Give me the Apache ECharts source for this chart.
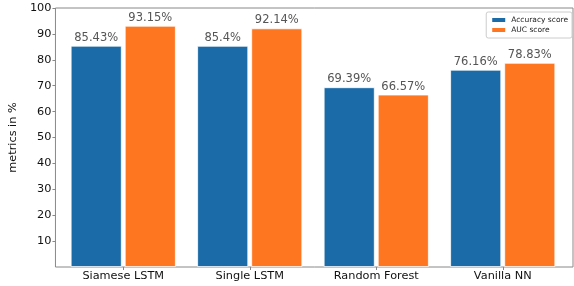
<!DOCTYPE html>
<html>
<head>
<meta charset="utf-8">
<script src="https://cdn.jsdelivr.net/npm/echarts@6/dist/echarts.min.js"></script>
<style>
  html, body { margin: 0; padding: 0; background: #fff; }
  #chart { width: 574px; height: 286px; }
</style>
</head>
<body>
<div id="chart"></div>
<script>
const categories = ['Siamese LSTM', 'Single LSTM', 'Random Forest', 'Vanilla NN']
const accuracy = [85.43, 85.4, 69.39, 76.16]
const auc = [93.15, 92.14, 66.57, 78.83]
const yTicks = [10, 20, 30, 40, 50, 60, 70, 80, 90, 100]

const chart = echarts.init(document.getElementById('chart'))
const font = 'DejaVu Sans'

const label = {
  show: true,
  position: 'top',
  distance: 2,
  color: '#555',
  fontFamily: font,
  fontSize: 11.5,
  formatter: (p) => p.value + '%',
}

const option = {
  animation: false,
  textStyle: { fontFamily: font },
  legend: {
    right: 2,
    top: 12,
    orient: 'vertical',
    itemWidth: 15,
    itemHeight: 6,
    itemGap: 2,
    padding: [4, 4, 4, 4],
    borderColor: '#ccc',
    borderWidth: 1,
    borderRadius: 2,
    textStyle: { fontSize: 7.5, color: '#222', fontFamily: font },
    icon: 'rect',
    data: ['Accuracy score', 'AUC score'],
  },
  grid: [
    // bars
    { left: 60, right: 8, top: 8, bottom: 19 },
    // frame
    { left: 47, right: 1, top: 8, bottom: 19, show: true, borderColor: '#888', borderWidth: 1 },
  ],
  xAxis: [
    {
      gridIndex: 0,
      type: 'category',
      data: categories,
      axisLine: { show: false },
      axisTick: { show: true, alignWithLabel: true, length: 3, lineStyle: { color: '#888' } },
      axisLabel: { interval: 0, color: '#111', fontSize: 11.3, margin: 4, fontFamily: font },
    },
    { gridIndex: 1, type: 'value', show: false, min: 0, max: 1 },
  ],
  yAxis: [
    {
      gridIndex: 0,
      type: 'value',
      min: 0,
      max: 100,
      interval: 10,
      show: false,
    },
    {
      gridIndex: 1,
      type: 'value',
      min: 0,
      max: 100,
      interval: 10,
      name: 'metrics in %',
      nameLocation: 'middle',
      nameGap: 28,
      nameTextStyle: { fontSize: 11.3, color: '#111', fontFamily: font },
      axisLine: { show: false },
      axisTick: { show: true, length: 3, customValues: yTicks, lineStyle: { color: '#888' } },
      axisLabel: {
        color: '#111',
        fontSize: 11.3,
        margin: 4,
        fontFamily: font,
        customValues: yTicks,
      },
      splitLine: { show: false },
    },
  ],
  series: [
    {
      name: 'Accuracy score',
      type: 'bar',
      xAxisIndex: 0,
      yAxisIndex: 0,
      data: accuracy,
      barWidth: 51,
      barGap: '6%',
      itemStyle: { color: '#1a6ba7', borderColor: '#fff', borderWidth: 0.8 },
      label: label,
    },
    {
      name: 'AUC score',
      type: 'bar',
      xAxisIndex: 0,
      yAxisIndex: 0,
      data: auc,
      barWidth: 51,
      itemStyle: { color: '#ff7621', borderColor: '#fff', borderWidth: 0.8 },
      label: label,
    },
  ],
}
chart.setOption(option)
</script>
</body>
</html>
